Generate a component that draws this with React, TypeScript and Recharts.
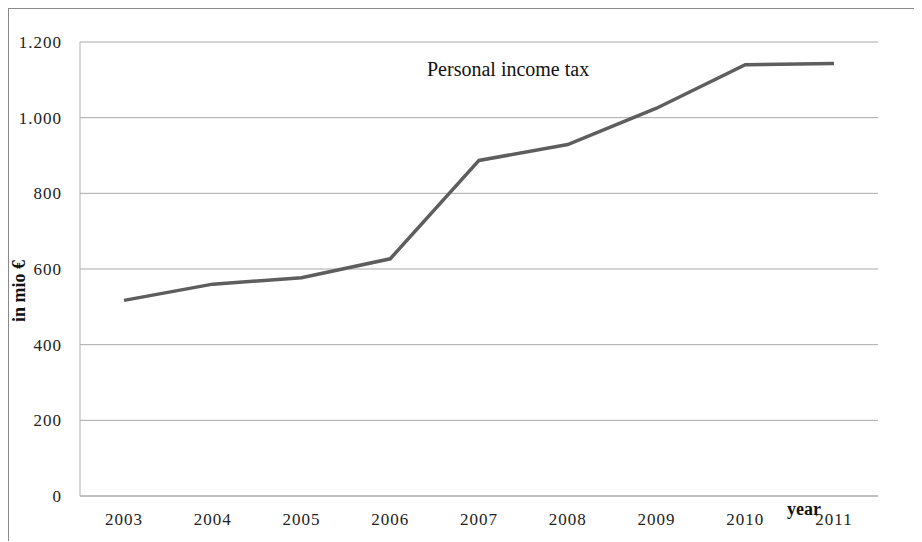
import React from "react";
import { LineChart, Line, XAxis, YAxis, CartesianGrid } from "recharts";

// Personal income tax revenue, in million euro
const years = ["2003", "2004", "2005", "2006", "2007", "2008", "2009", "2010", "2011"];
const incomeTax = [517, 560, 577, 627, 887, 929, 1025, 1140, 1143];
const yTicks = [0, 200, 400, 600, 800, 1000, 1200];

const data = years.map((year, i) => ({ year, tax: incomeTax[i] }));

const serif = '"Liberation Serif", "Times New Roman", serif';

// thousands separator as a dot
const formatTick = (v: number) => v.toLocaleString("de-DE");

export default function App() {
  return (
    <div
      style={{
        position: "relative",
        width: 914,
        height: 534,
        marginLeft: -1,
        marginTop: -1,
        borderLeft: "2px solid #8a8a8a",
        borderTop: "2px solid #8a8a8a",
        boxSizing: "border-box",
        fontFamily: serif,
      }}
    >
      <LineChart
        width={912}
        height={532}
        data={data}
        margin={{ top: 33, right: 43, bottom: 0, left: 0 }}
      >
        <CartesianGrid vertical={false} stroke="#aaaaaa" strokeWidth={1} />
        <XAxis
          dataKey="year"
          height={45}
          padding={{ left: 44, right: 44 }}
          tickLine={false}
          tickSize={0}
          tickMargin={17}
          axisLine={{ stroke: "#c0c0c0", strokeWidth: 2 }}
          tick={{ fill: "#222", fontSize: 17, fontFamily: serif, letterSpacing: 1 }}
          interval={0}
        />
        <YAxis
          width={71}
          domain={[0, 1200]}
          ticks={yTicks}
          tickFormatter={formatTick}
          tickLine={false}
          tickSize={0}
          tickMargin={18}
          axisLine={{ stroke: "#b0b0b0", strokeWidth: 1 }}
          tick={{ fill: "#222", fontSize: 17, fontFamily: serif, letterSpacing: 1 }}
        />
        <Line
          type="linear"
          dataKey="tax"
          stroke="#5e5e5e"
          strokeWidth={3.5}
          dot={false}
          isAnimationActive={false}
        />
      </LineChart>
      <div
        style={{
          position: "absolute",
          left: 418,
          top: 49,
          fontSize: 20,
          color: "#111",
          whiteSpace: "nowrap",
        }}
      >
        Personal income tax
      </div>
      <div
        style={{
          position: "absolute",
          left: 10,
          top: 282,
          fontSize: 18,
          fontWeight: "bold",
          color: "#111",
          whiteSpace: "nowrap",
          transform: "translate(-50%, -50%) rotate(-90deg)",
        }}
      >
        in mio €
      </div>
      <div
        style={{
          position: "absolute",
          left: 778,
          top: 490,
          fontSize: 18,
          fontWeight: "bold",
          color: "#111",
          whiteSpace: "nowrap",
        }}
      >
        year
      </div>
    </div>
  );
}
